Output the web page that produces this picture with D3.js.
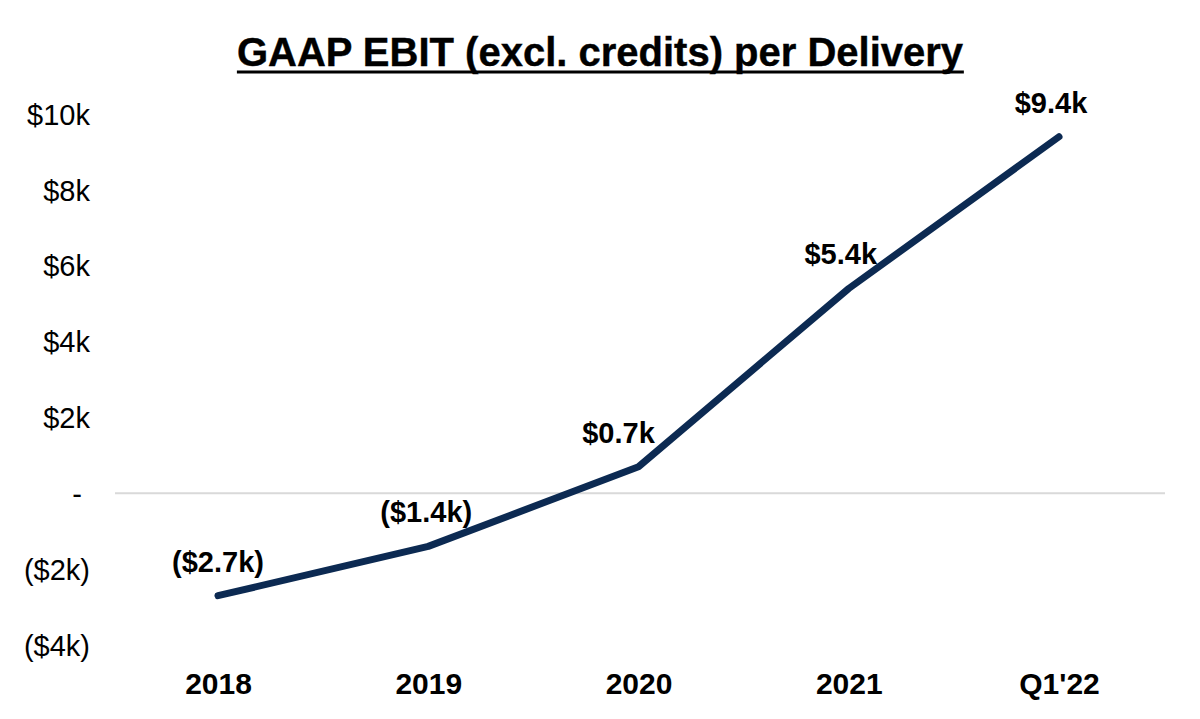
<!DOCTYPE html>
<html><head><meta charset="utf-8">
<script src="https://cdn.jsdelivr.net/npm/d3@7"></script>
<style>
html,body{margin:0;padding:0;background:#fff;}
text{font-family:"Liberation Sans", Arial, sans-serif;}
</style></head>
<body><svg id="c" width="1200" height="719"></svg>
<script>
const categories = ["2018","2019","2020","2021","Q1'22"];
const values = [-2.7, -1.4, 0.7, 5.4, 9.4];
const valueLabels = ["($2.7k)","($1.4k)","$0.7k","$5.4k","$9.4k"];
const yTicks = [-4,-2,0,2,4,6,8,10];
const yTickLabels = ["($4k)","($2k)","- ","$2k","$4k","$6k","$8k","$10k"];
const title = "GAAP EBIT (excl. credits) per Delivery";

const svg = d3.select("#c");
const x = d3.scalePoint().domain(categories).range([218,1059]);
const y = d3.scaleLinear().domain([-4,10]).range([645,114]);

// title
const t = svg.append("text").attr("x",600).attr("y",66).attr("text-anchor","middle")
  .attr("font-size",40).attr("font-weight","bold").attr("fill","#000")
  .attr("stroke","#000").attr("stroke-width",0.4)
  .text(title);
const bb = t.node().getBBox();
svg.append("line").attr("x1",bb.x).attr("x2",bb.x+bb.width).attr("y1",72).attr("y2",72)
  .attr("stroke","#000").attr("stroke-width",3);

// zero line
svg.append("line").attr("x1",115).attr("x2",1165).attr("y1",y(0)).attr("y2",y(0))
  .attr("stroke","#d9d9d9").attr("stroke-width",2);

// y axis
const yAxis = d3.axisLeft(y).tickValues(yTicks).tickSize(0).tickPadding(0)
  .tickFormat((d,i)=>yTickLabels[i]);
const ga = svg.append("g").attr("transform","translate(90,0)").call(yAxis);
ga.select(".domain").remove();
ga.selectAll("text").attr("font-size",29).attr("fill","#000")
  .attr("font-family","'Liberation Sans', Arial, sans-serif").style("white-space","pre")
  .attr("dy","0.35em");

// x axis
const xa = svg.append("g").attr("transform","translate(0,672)")
  .call(d3.axisBottom(x).tickSize(0).tickPadding(0));
xa.select(".domain").remove();
xa.selectAll("text").attr("font-size",30).attr("font-weight","bold").attr("fill","#000")
  .attr("font-family","'Liberation Sans', Arial, sans-serif").attr("dy","0.73em");

// line
const data = categories.map((c,i)=>({c, v: values[i], l: valueLabels[i]}));
svg.append("path").datum(data)
  .attr("d", d3.line().x(d=>x(d.c)).y(d=>y(d.v)))
  .attr("fill","none").attr("stroke","#0c2a52").attr("stroke-width",7)
  .attr("stroke-linecap","round").attr("stroke-linejoin","round");

// labels
const labelDx = [0,-2,-20,-8,-8];
svg.selectAll(".lbl").data(data).enter().append("text")
  .attr("x",(d,i)=>x(d.c)+labelDx[i]).attr("y",d=>y(d.v)-24)
  .attr("text-anchor","middle").attr("font-size",29).attr("font-weight","bold")
  .attr("fill","#000").text(d=>d.l);
</script></body></html>
